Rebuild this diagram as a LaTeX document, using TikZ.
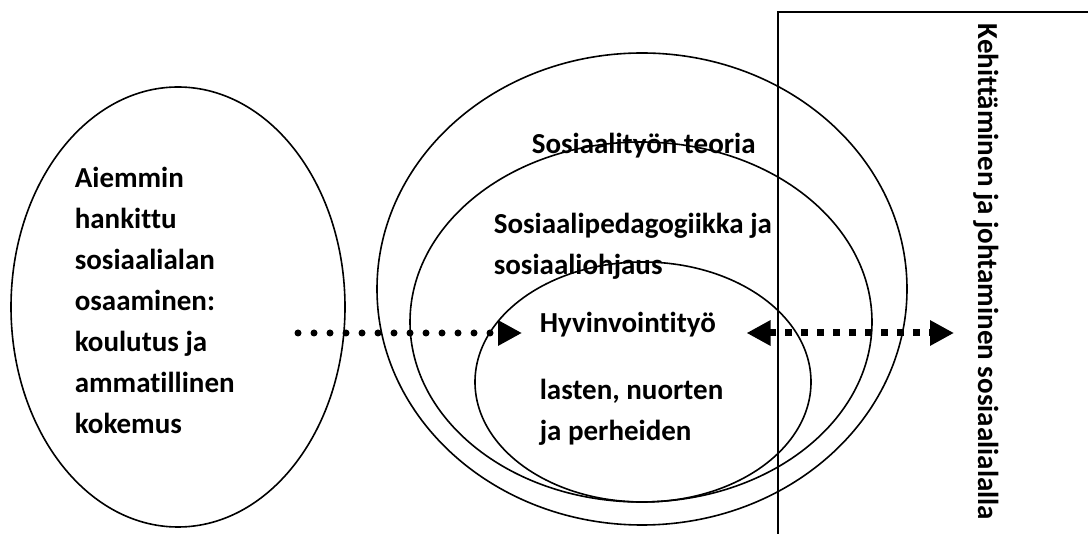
\documentclass[tikz,border=0pt]{standalone}
\usepackage{fontspec}
\setmainfont[Ligatures=NoCommon]{Carlito}
\usetikzlibrary{shapes.geometric, arrows.meta, positioning}

\begin{document}
\begin{tikzpicture}[
    x=1pt, y=-1pt,
    line width=1.6pt,
    >={Triangle[length=24pt, width=24pt]},
    oval/.style={draw, ellipse, inner sep=0pt},
    txt/.style={inner sep=0pt, anchor=base west, align=left,
        font=\bfseries\fontsize{29}{41}\selectfont},
    dotline/.style={->, line width=7pt, line cap=round, dash pattern=on 0pt off 16pt},
    dashline/.style={<->, line width=7pt, dash pattern=on 7pt off 9pt}
]

\path[use as bounding box] (0,0) rectangle (1088,534);
\clip (0,0) rectangle (1088,534);

% ellipses
\node[oval, minimum width=334pt, minimum height=440pt] (prior) at (178,307) {};
\node[oval, minimum width=530pt, minimum height=472pt] (theory) at (642,289) {};
\node[oval, minimum width=462pt, minimum height=360pt] (pedagogy) at (641,322) {};
\node[oval, minimum width=336pt, minimum height=240pt] (wellbeing) at (643,382) {};

% development frame
\draw (778,12) rectangle (1120,560);

% texts (multi-line ones sit on their last baseline)
\node[txt] (priortxt) at (74,434) {Aiemmin\\hankittu\\sosiaalialan\\osaaminen:\\koulutus ja\\ammatillinen\\kokemus};
\node[txt] (theorytxt) at (531,154) {Sosiaalityön teoria};
\node[txt] (pedagogytxt) at (493,275) {Sosiaalipedagogiikka ja\\sosiaaliohjaus};
\node[txt] (hyvtxt) at (539,333) {Hyvinvointityö};
\node[txt] (grouptxt) at (539,441) {lasten, nuorten\\ja perheiden};
\node[txt, rotate=-90] (devtxt) at (978,23) {Kehittäminen ja johtaminen sosiaalialalla};

\coordinate (dotstart) at (298,333);

% arrows
\draw[dotline, shorten >=17pt] (dotstart) -- (hyvtxt.base west);
\draw[dashline, shorten <=30pt, shorten >=24pt] (hyvtxt.base east) -- (hyvtxt.base east -| devtxt.base);

\end{tikzpicture}
\end{document}
